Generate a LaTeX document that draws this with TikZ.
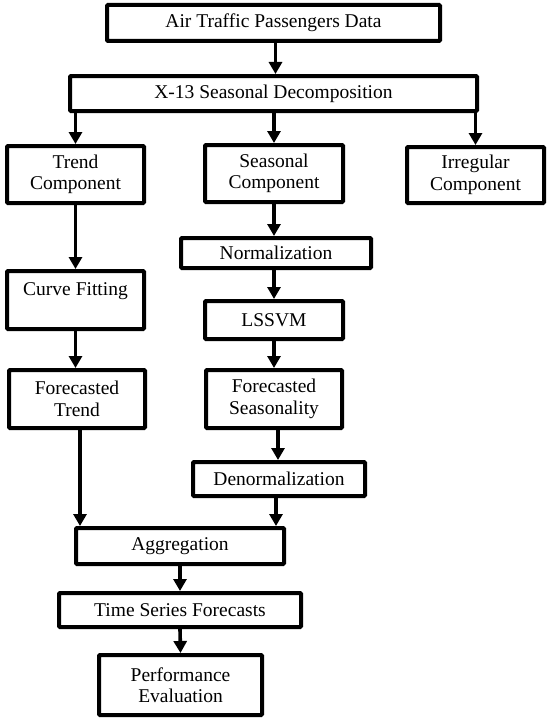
\documentclass[tikz,border=0pt]{standalone}
\usepackage{fontspec}
\setmainfont{Liberation Serif}
\usetikzlibrary{arrows.meta}
\begin{document}
\begin{tikzpicture}[x=1pt,y=-1pt,
  box/.style={draw=black,line width=4pt,rounded corners=1pt,inner sep=0pt,
    align=center,font=\fontsize{19.5}{21.5}\selectfont},
  arr/.style={line width=3.6pt,-{Triangle[width=13pt,length=12pt]}}]
\useasboundingbox (0,0) rectangle (550,725);
\node[box,minimum width=333pt,minimum height=36pt] (air) at (273.5,23) {Air Traffic Passengers Data};
\node[box,minimum width=407pt,minimum height=35pt] (x13) at (273.5,93.5) {X-13 Seasonal Decomposition};
\node[box,minimum width=137pt,minimum height=57pt] (trend) at (75.5,174.5) {Trend\\Component};
\node[box,minimum width=138pt,minimum height=57pt] (seas) at (274,173.5) {Seasonal\\Component};
\node[box,minimum width=137pt,minimum height=56pt] (irr) at (475.5,175) {Irregular\\Component};
\node[box,minimum width=190pt,minimum height=30pt] (norm) at (276,253) {Normalization};
\node[box,minimum width=137pt,minimum height=58pt] (curve) at (75.5,300) {Curve Fitting\\~};
\node[box,minimum width=138pt,minimum height=38pt] (lssvm) at (274,320) {LSSVM};
\node[box,minimum width=136pt,minimum height=58pt] (ftrend) at (77,399) {Forecasted\\Trend};
\node[box,minimum width=136pt,minimum height=58pt] (fseas) at (274,399) {Forecasted\\Seasonality};
\node[box,minimum width=172pt,minimum height=34pt] (denorm) at (279,479) {Denormalization};
\node[box,minimum width=208pt,minimum height=36pt] (agg) at (180,546) {Aggregation};
\node[box,minimum width=242pt,minimum height=34pt] (tsf) at (180,610) {Time Series Forecasts};
\node[box,minimum width=163pt,minimum height=60pt] (perf) at (180.5,685) {Performance\\Evaluation};
\draw[arr] ([xshift=2pt]air.south) -- ([xshift=2pt]x13.north);
\draw[arr] (x13.south -| trend.north) -- (trend.north);
\draw[arr] (x13.south -| seas.north) -- (seas.north);
\draw[arr] (x13.south -| irr.north) -- (irr.north);
\draw[arr] (trend.south) -- (curve.north);
\draw[arr] (seas.south) -- (seas.south |- norm.north);
\draw[arr] (norm.south -| lssvm.north) -- (lssvm.north);
\draw[arr] (curve.south) -- (curve.south |- ftrend.north);
\draw[arr] (lssvm.south) -- (fseas.north);
\draw[arr] ([xshift=3pt]ftrend.south) -- ([xshift=3pt]ftrend.south |- agg.north);
\draw[arr] ([xshift=4pt]fseas.south) -- ([xshift=4pt]fseas.south |- denorm.north);
\draw[arr] ([xshift=-3pt]denorm.south) -- ([xshift=-3pt]denorm.south |- agg.north);
\draw[arr] (agg.south) -- (tsf.north);
\draw[arr] (tsf.south) -- (perf.north);
\end{tikzpicture}
\end{document}
